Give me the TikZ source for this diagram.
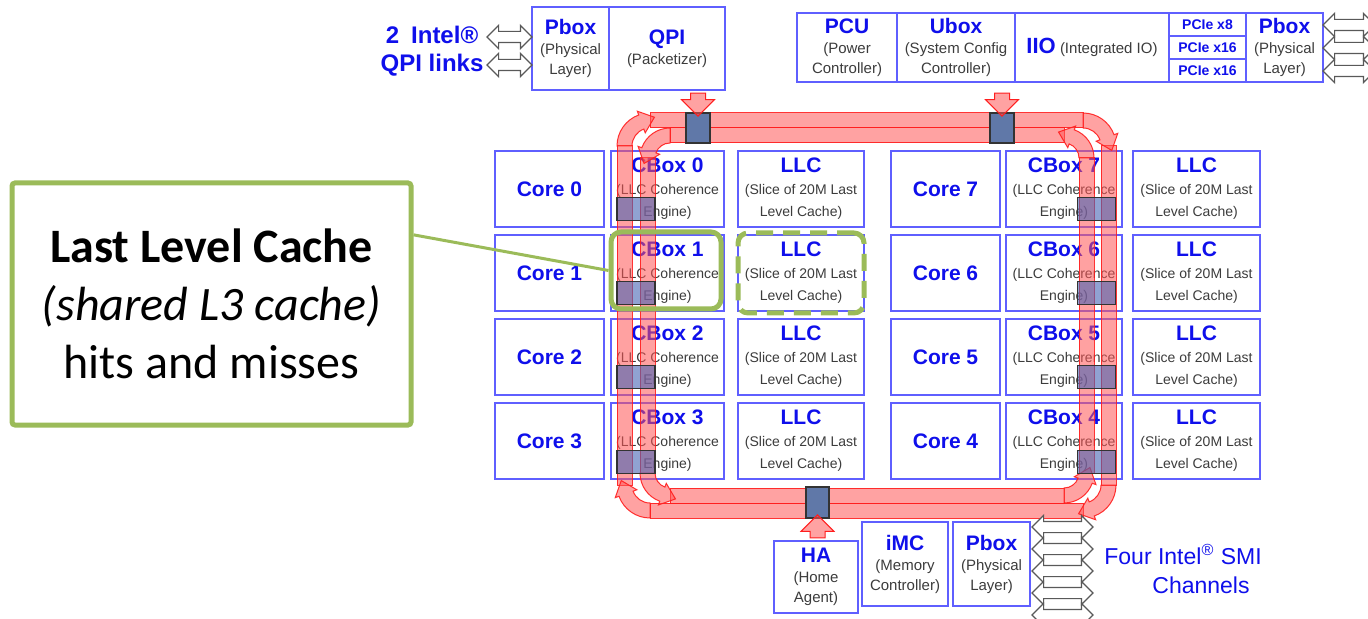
\documentclass[tikz,border=0pt]{standalone}
\usepackage{fontspec}
\setmainfont{Liberation Sans}
\newfontfamily\calloutfont{Carlito}
\usetikzlibrary{arrows.meta,positioning,calc,shapes.arrows}
\definecolor{boxblue}{RGB}{95,95,255}
\definecolor{titleblue}{RGB}{15,15,235}
\definecolor{subgray}{RGB}{60,60,60}
\definecolor{ringred}{RGB}{255,30,30}
\definecolor{ringfill}{RGB}{255,85,85}
\definecolor{stopblue}{RGB}{96,120,168}
\definecolor{stopside}{RGB}{70,100,180}
\definecolor{hlgreen}{RGB}{155,187,89}
\tikzset{
  gridbox/.style={draw=boxblue, line width=0.8pt, fill=white, inner sep=0pt, outer sep=0pt, align=center,
    text=subgray, minimum height=38pt, font=\fontsize{7}{11}\selectfont},
  topbox/.style={draw=boxblue, line width=0.8pt, fill=white, inner sep=0pt, outer sep=0pt, align=center,
    text=subgray, font=\fontsize{7.5}{10}\selectfont},
  pciebox/.style={draw=boxblue, line width=0.8pt, fill=white, inner sep=0pt, outer sep=0pt, text=titleblue,
    minimum width=38.5pt, minimum height=11.5pt, font=\fontsize{7}{8}\selectfont\bfseries},
  ringband/.style={draw=ringred, fill=ringfill, fill opacity=0.55, draw opacity=0.9, line width=0.5pt},
  stoptop/.style={draw=black!80, fill=stopblue, line width=0.6pt, inner sep=0pt,
    minimum width=12pt, minimum height=15pt},
  stopsq/.style={draw=black!80, fill=stopside, fill opacity=0.6, line width=0.6pt, inner sep=0pt,
    minimum width=19pt, minimum height=11.5pt},
  blockarr/.style={single arrow, draw=ringred, fill=ringfill, fill opacity=0.55, line width=0.5pt,
    inner sep=3.5pt, single arrow head extend=4.5pt, minimum height=11.5pt},
  dblarr/.style={double arrow, draw=black!65, fill=white, line width=0.6pt, inner sep=2.5pt,
    double arrow head extend=3pt, minimum height=22.5pt},
  linklbl/.style={align=center, text=titleblue, font=\fontsize{12}{14}\selectfont\bfseries},
  smilbl/.style={align=center, text=titleblue, font=\fontsize{11.5}{14.5}\selectfont},
  calloutbox/.style={draw=hlgreen, line width=2.5pt, rounded corners=1.5pt, fill=white, align=center,
    minimum width=199.5pt, minimum height=121pt, font=\calloutfont\fontsize{24}{29}\selectfont},
  calloutln/.style={draw=hlgreen, line width=1.5pt},
  hlbox/.style={draw=hlgreen, line width=2.5pt, rounded corners=5pt, minimum width=55pt, minimum height=38.5pt},
  hldash/.style={hlbox, dash pattern=on 8.5pt off 5pt, minimum width=63pt, minimum height=40pt},
}
\newcommand{\boxttl}[1]{{\fontsize{10.5}{11}\selectfont\bfseries\color{titleblue}#1}}
\newcommand{\ringturn}[6]{%
  \filldraw[ringband] ($#1+(#4:#3)$) arc[start angle=#4, end angle=#5, radius=#3]
    -- ($#1+(#5:#3+4)$) -- ($#1+(#5:{(#2+#3)/2})+(#5#6:14)$)
    -- ($#1+(#5:#2-4)$) -- ($#1+(#5:#2)$)
    arc[start angle=#5, end angle=#4, radius=#2] -- cycle;
}

\begin{document}
\begin{tikzpicture}[x=0.5pt, y=-0.5pt]
  \useasboundingbox (0,0) rectangle (1368,619);

  \node[calloutbox] (callout) at (211.5,304)
    {\textbf{Last Level Cache}\\\textit{(shared L3 cache)}\\hits and misses};

  \node[linklbl] (qpilbl) at (432,51) {2\enspace Intel®\\QPI links};
  \node[topbox, minimum width=38.5pt, minimum height=41.5pt] (qpipbox) at (570.5,48.5)
    {\boxttl{Pbox}\\(Physical\\Layer)};
  \node[topbox, minimum width=58pt, minimum height=41.5pt, right=0pt of qpipbox] (qpi)
    {\boxttl{QPI}\\(Packetizer)};
  \node[dblarr] (qpiln1) at (509.5,37) {};
  \node[dblarr] (qpiln2) at (509.5,65) {};

  \node[topbox, minimum width=50pt, minimum height=34.5pt] (pcu) at (847,47.5)
    {\boxttl{PCU}\\(Power\\Controller)};
  \node[topbox, minimum width=59pt, minimum height=34.5pt, right=0pt of pcu] (ubox)
    {\boxttl{Ubox}\\(System Config\\Controller)};
  \node[topbox, minimum width=77pt, minimum height=34.5pt, right=0pt of ubox] (iio)
    {{\fontsize{11}{12}\selectfont\bfseries\color{titleblue}IIO} (Integrated IO)};
  \node[pciebox, anchor=north west] (pcie1) at (iio.north east) {PCIe x8};
  \node[pciebox, below=0pt of pcie1] (pcie2) {PCIe x16};
  \node[pciebox, below=0pt of pcie2] (pcie3) {PCIe x16};
  \node[topbox, minimum width=38.5pt, minimum height=34.5pt, anchor=north west] (iopbox)
    at (pcie1.north east) {\boxttl{Pbox}\\(Physical\\Layer)};
  \foreach \yy [count=\i] in {25,48,71}
    \node[dblarr, minimum height=26pt] (ioln\i) at (1349,\yy) {};

  \foreach \yy/\ca/\cb in {189/0/7, 273/1/6, 357/2/5, 441/3/4} {
    \node[gridbox, minimum width=54.5pt] (core\ca) at (549.5,\yy) {\boxttl{Core \ca}};
    \node[gridbox, minimum width=56.5pt] (cbox\ca) at (667.5,\yy) {\boxttl{CBox \ca}\\(LLC Coherence\\Engine)};
    \node[gridbox, minimum width=63pt] (llc\ca) at (801,\yy) {\boxttl{LLC}\\(Slice of 20M Last\\Level Cache)};
    \node[gridbox, minimum width=54.5pt] (core\cb) at (945.5,\yy) {\boxttl{Core \cb}};
    \node[gridbox, minimum width=58pt] (cbox\cb) at (1064,\yy) {\boxttl{CBox \cb}\\(LLC Coherence\\Engine)};
    \node[gridbox, minimum width=63.5pt] (llc\cb) at (1196.5,\yy) {\boxttl{LLC}\\(Slice of 20M Last\\Level Cache)};
  }

  \filldraw[ringband] (650,113) rectangle (1083,128);
  \filldraw[ringband] (1101,146) rectangle (1116,485);
  \filldraw[ringband] (650,503) rectangle (1083,518);
  \filldraw[ringband] (617,146) rectangle (632,485);
  \ringturn{(650,146)}{18}{33}{180}{250}{+90}
  \ringturn{(1083,146)}{18}{33}{270}{340}{+90}
  \ringturn{(1083,485)}{18}{33}{0}{70}{+90}
  \ringturn{(650,485)}{18}{33}{90}{160}{+90}
  \filldraw[ringband] (670,128) rectangle (1064,143);
  \filldraw[ringband] (1079,158) rectangle (1094,473);
  \filldraw[ringband] (670,488) rectangle (1064,503);
  \filldraw[ringband] (640,158) rectangle (655,473);
  \ringturn{(670,158)}{15}{30}{270}{200}{-90}
  \ringturn{(1064,158)}{15}{30}{360}{290}{-90}
  \ringturn{(1064,473)}{15}{30}{90}{20}{-90}
  \ringturn{(670,473)}{15}{30}{180}{110}{-90}

  \node[stoptop] (qpistop) at (698,128) {};
  \node[stoptop] (uboxstop) at (1002,128) {};
  \node[stoptop, minimum width=11.5pt, minimum height=15.5pt] (hastop) at (817.5,502.5) {};
  \foreach \yy [count=\i from 0] in {209,293,377,462} {
    \node[stopsq] (lstop\i) at (636,\yy) {};
    \node[stopsq] (rstop\i) at (1096.5,\yy) {};
  }
  \node[blockarr, rotate=-90] (qpiarr) at ($(qpistop.north)+(0,-11.5)$) {};
  \node[blockarr, rotate=-90] (uboxarr) at ($(uboxstop.north)+(0,-11.5)$) {};
  \node[blockarr, rotate=90] (haarr) at ($(hastop.south)+(0,11.5)$) {};

  \node[topbox, minimum width=42pt, minimum height=36pt] (ha) at (816,577)
    {\boxttl{HA}\\(Home\\Agent)};
  \node[topbox, minimum width=43pt, minimum height=42pt] (imc) at (905,564)
    {\boxttl{iMC}\\(Memory\\Controller)};
  \node[topbox, minimum width=38.5pt, minimum height=42pt] (mempbox) at (991.5,564)
    {\boxttl{Pbox}\\(Physical\\Layer)};
  \foreach \yy [count=\i] in {527,549,571,593,615}
    \node[dblarr, minimum height=30.5pt] (smiln\i) at (1062.5,\yy) {};
  \node[smilbl] (smi) at (1183,569) {Four Intel\textsuperscript{®} SMI\\\hspace*{18pt}Channels};

  \node[hlbox] (hl) at (666,270.5) {};
  \node[hldash] (hlllc) at (801,273) {};
  \draw[calloutln] ($(callout.north east)!0.22!(callout.south east)$) -- (hl.west);
\end{tikzpicture}
\end{document}
